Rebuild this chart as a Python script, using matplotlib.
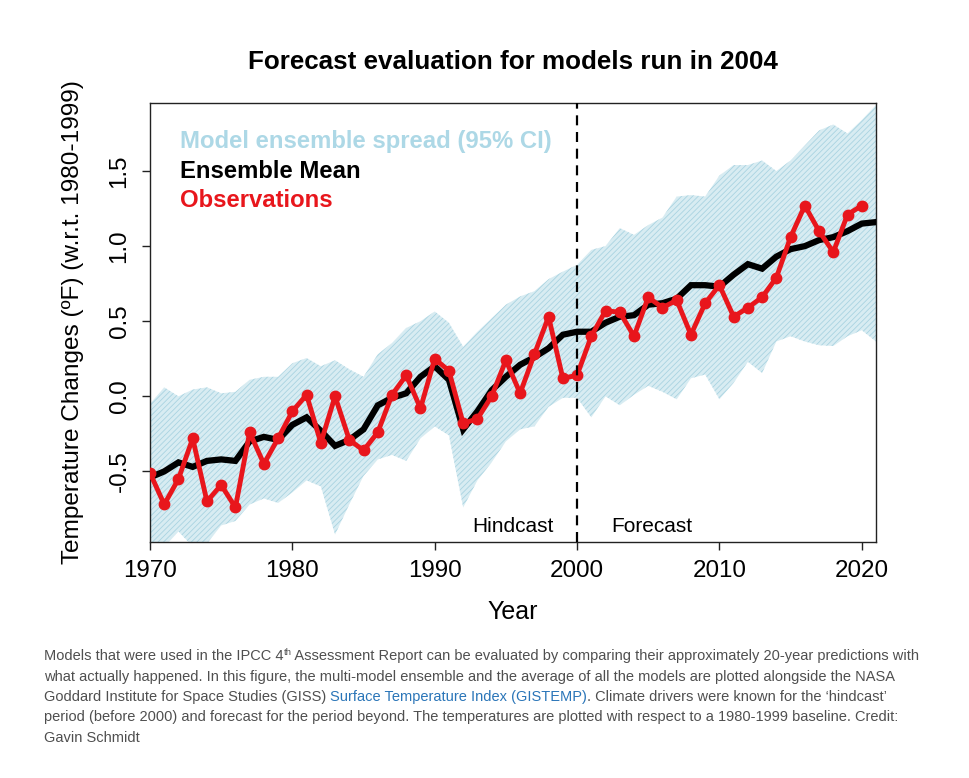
import numpy as np
import matplotlib
matplotlib.use("Agg")
import matplotlib.pyplot as plt

# ---------------------------------------------
# Data
# ---------------------------------------------
years = list(range(1970, 2022))
obs_years = list(range(1970, 2021))

observations = [-0.51, -0.72, -0.55, -0.28, -0.70, -0.59, -0.74, -0.24, -0.45, -0.28,
                -0.10, 0.01, -0.31, 0.00, -0.29, -0.36, -0.24, 0.01, 0.14, -0.08,
                0.25, 0.17, -0.18, -0.15, 0.00, 0.24, 0.02, 0.28, 0.53, 0.12,
                0.14, 0.40, 0.57, 0.56, 0.40, 0.66, 0.59, 0.64, 0.41, 0.62,
                0.74, 0.53, 0.59, 0.66, 0.79, 1.06, 1.27, 1.10, 0.96, 1.21, 1.27]

ensemble_mean = [-0.54, -0.50, -0.44, -0.47, -0.43, -0.42, -0.43, -0.30, -0.27, -0.29,
                 -0.19, -0.14, -0.23, -0.33, -0.29, -0.22, -0.06, -0.01, 0.02, 0.13,
                 0.20, 0.11, -0.22, -0.10, 0.04, 0.13, 0.21, 0.26, 0.32, 0.41,
                 0.43, 0.43, 0.49, 0.53, 0.54, 0.61, 0.62, 0.65, 0.74, 0.74,
                 0.73, 0.81, 0.88, 0.85, 0.93, 0.98, 1.00, 1.04, 1.06, 1.10,
                 1.15, 1.16]

spread_upper = [-0.05, 0.06, 0.00, 0.045, 0.06, 0.02, 0.03, 0.11, 0.13, 0.13,
                0.22, 0.255, 0.20, 0.24, 0.18, 0.13, 0.28, 0.355, 0.455, 0.50,
                0.565, 0.49, 0.33, 0.43, 0.52, 0.61, 0.665, 0.70, 0.78, 0.83,
                0.875, 0.975, 1.00, 1.12, 1.075, 1.14, 1.19, 1.33, 1.34, 1.33,
                1.47, 1.54, 1.54, 1.57, 1.50, 1.57, 1.67, 1.77, 1.81, 1.75,
                1.84, 1.94]

spread_lower = [-1.05, -1.00, -0.90, -1.00, -0.98, -0.86, -0.83, -0.72, -0.68, -0.71,
                -0.64, -0.56, -0.60, -0.92, -0.72, -0.53, -0.42, -0.39, -0.43, -0.28,
                -0.20, -0.26, -0.74, -0.56, -0.44, -0.30, -0.22, -0.20, -0.07, -0.01,
                -0.01, -0.14, 0.00, -0.06, 0.01, 0.07, 0.03, -0.02, 0.12, 0.145,
                -0.02, 0.09, 0.23, 0.155, 0.365, 0.40, 0.365, 0.34, 0.335, 0.40,
                0.44, 0.365]

x_ticks = [1970, 1980, 1990, 2000, 2010, 2020]
y_ticks = [-0.5, 0.0, 0.5, 1.0, 1.5]
split_year = 2000

title = "Forecast evaluation for models run in 2004"
y_label = "Temperature Changes (\u00baF) (w.r.t. 1980-1999)"
x_label = "Year"
legend_labels = ["Model ensemble spread (95% CI)", "Ensemble Mean", "Observations"]

caption_lines = [
    [("Models that were used in the IPCC 4", "txt"), ("th", "sup"),
     (" Assessment Report can be evaluated by comparing their approximately 20-year predictions with", "txt")],
    [("what actually happened. In this figure, the multi-model ensemble and the average of all the models are plotted alongside the NASA", "txt")],
    [("Goddard Institute for Space Studies (GISS) ", "txt"), ("Surface Temperature Index (GISTEMP)", "link"),
     (". Climate drivers were known for the \u2018hindcast\u2019", "txt")],
    [("period (before 2000) and forecast for the period beyond. The temperatures are plotted with respect to a 1980-1999 baseline. Credit:", "txt")],
    [("Gavin Schmidt", "txt")],
]

# ---------------------------------------------
# Style
# ---------------------------------------------
W, H = 970, 778
RED = "#e8161c"
BAND_FILL = "#d8ecf2"
BAND_HATCH = "#a9d3e1"
LIGHTBLUE = "#add8e6"
CAPTION_GREY = "#4f4f4f"
LINK_BLUE = "#2a75b8"

plt.rcParams["font.family"] = ["Liberation Sans", "DejaVu Sans"]
plt.rcParams["hatch.linewidth"] = 0.6
plt.rcParams["hatch.color"] = BAND_HATCH

fig = plt.figure(figsize=(W / 100, H / 100), dpi=100)
ax = fig.add_axes([150 / W, 1 - 542 / H, 726 / W, 439 / H])

# spread band
ax.fill_between(years, spread_lower, spread_upper, facecolor=BAND_FILL,
                edgecolor=BAND_HATCH, hatch="//////", linewidth=0, zorder=1)

# ensemble mean
ax.plot(years, ensemble_mean, color="black", lw=4.5, solid_joinstyle="miter",
        zorder=3)

# observations
ax.plot(obs_years, observations, color=RED, lw=3.5, marker="o", ms=7.5,
        mec=RED, mfc=RED, zorder=4)

# hindcast / forecast split
ax.axvline(split_year, color="black", lw=1.6, linestyle=(0, (4.5, 3)), zorder=5)

ax.set_xlim(1970, 2021)
ax.set_ylim(-0.97, 1.953)
ax.set_xticks(x_ticks)
ax.set_yticks(y_ticks)
ax.set_xticklabels([str(t) for t in x_ticks])
ax.set_yticklabels(["-0.5", "0.0", "0.5", "1.0", "1.5"], rotation=90, va="center")
ax.tick_params(axis="both", labelsize=17.4, length=6, width=1, direction="out",
               color="#222222")
ax.tick_params(axis="x", pad=7)
ax.tick_params(axis="y", pad=8)
for s in ax.spines.values():
    s.set_linewidth(1.0)
    s.set_color("#222222")

# legend as coloured text
legend_colors = [LIGHTBLUE, "black", RED]
legend_y = [0.912, 0.845, 0.779]
for lab, col, yy in zip(legend_labels, legend_colors, legend_y):
    ax.text(0.041, yy, lab, transform=ax.transAxes, color=col, fontsize=17.2,
            fontweight="bold", va="center", ha="left", zorder=6)

ax.text(0.556, 0.035, "Hindcast", transform=ax.transAxes, fontsize=15,
        ha="right", va="center", zorder=6)
ax.text(0.635, 0.035, "Forecast", transform=ax.transAxes, fontsize=15,
        ha="left", va="center", zorder=6)

# titles
fig.text(513 / W, 1 - 62 / H, title, fontsize=18.7, fontweight="bold",
         ha="center", va="center")
fig.text(513 / W, 1 - 612 / H, x_label, fontsize=18, ha="center", va="center")
fig.text(73 / W, 1 - 322 / H, y_label, fontsize=17.6, rotation=90,
         ha="center", va="center")

# ---------------------------------------------
# Caption (runs of text with different colours)
# ---------------------------------------------
renderer = fig.canvas.get_renderer()
cap_family = ["Liberation Sans", "DejaVu Sans"]
cap_size = 10.5
line_y = [660, 680.5, 701, 721.5, 742]
for runs, yb in zip(caption_lines, line_y):
    x = 44
    for txt, kind in runs:
        size = cap_size
        color = CAPTION_GREY
        dy = 0
        if kind == "sup":
            size = cap_size * 0.65
            dy = -5
        elif kind == "link":
            color = LINK_BLUE
        t = fig.text(x / W, 1 - (yb + dy) / H, txt, fontsize=size, color=color,
                     family=cap_family, ha="left", va="baseline")
        bb = t.get_window_extent(renderer)
        x += bb.width

fig.savefig("out.png", dpi=100)
